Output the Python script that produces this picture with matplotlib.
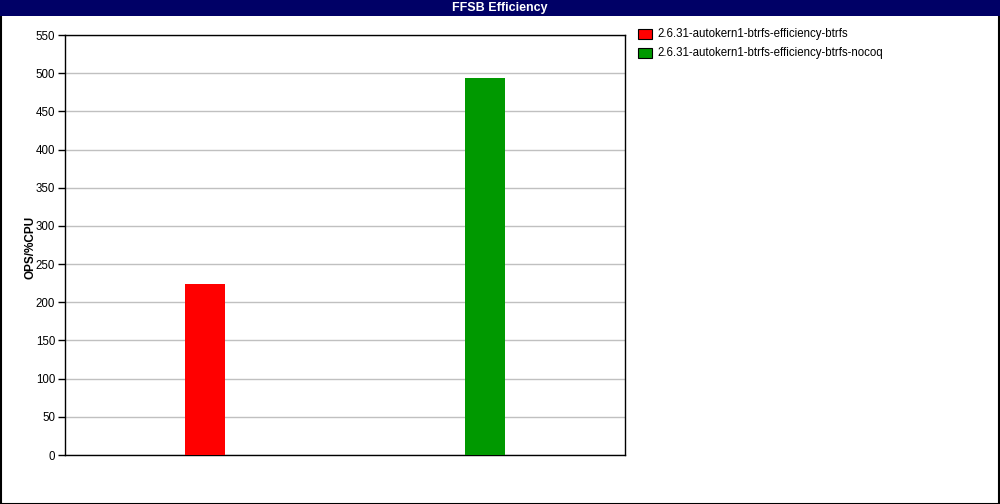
import matplotlib
matplotlib.use("Agg")
import matplotlib.pyplot as plt
from matplotlib.patches import Rectangle

series_labels = ["2.6.31-autokern1-btrfs-efficiency-btrfs",
                 "2.6.31-autokern1-btrfs-efficiency-btrfs-nocoq"]
values = [224, 494]
colors = ["#ff0000", "#009900"]
yticks = list(range(0, 551, 50))
title = "FFSB Efficiency"
ylabel = "OPS/%CPU"

W, H = 1000, 504
fig = plt.figure(figsize=(W / 100, H / 100), dpi=100)
fig.patch.set_facecolor("white")

# outer border
fig.patches.append(Rectangle((0.5 / W, 0.5 / H), 1 - 1.5 / W, 1 - 1.5 / H, transform=fig.transFigure,
                             fill=False, edgecolor="black", linewidth=1.5, zorder=0))
# title bar
fig.patches.append(Rectangle((0, 1 - 16 / H), 1, 16 / H, transform=fig.transFigure,
                             facecolor="#000066", edgecolor="none", zorder=1))
fig.text(0.5, 1 - 8.5 / H, title, color="white", fontweight="bold", fontsize=9,
         ha="center", va="center", family="Liberation Sans")

ax = fig.add_axes([65 / W, 1 - 455 / H, 560 / W, 420 / H])
positions = list(range(len(values)))
ax.bar(positions, values, width=1 / 7, color=colors, zorder=3)
ax.set_xlim(-0.5, len(values) - 0.5)
ax.set_ylim(0, 550)
ax.set_yticks(yticks)
ax.set_yticklabels([str(t) for t in yticks], fontsize=8.3, family="Liberation Sans")
ax.set_xticks([])
ax.yaxis.grid(True, color="#c0c0c0", linewidth=1, zorder=0)
ax.tick_params(axis="y", length=5, width=1, pad=2)
for s in ax.spines.values():
    s.set_linewidth(1)
    s.set_color("black")
fig.text(30 / W, 1 - 247 / H, ylabel, rotation=90, fontweight="bold", fontsize=8.5,
         ha="center", va="center", family="Liberation Sans")

# legend
for i, (lab, c) in enumerate(zip(series_labels, colors)):
    yc = 34 + 19 * i
    fig.patches.append(Rectangle((638 / W, 1 - (yc + 4.5) / H), 14 / W, 9 / H, transform=fig.transFigure,
                                 facecolor=c, edgecolor="black", linewidth=0.8))
    fig.text(657 / W, 1 - yc / H, lab, fontsize=8.3, ha="left", va="center", family="Liberation Sans")

fig.savefig("out.png", dpi=100)
